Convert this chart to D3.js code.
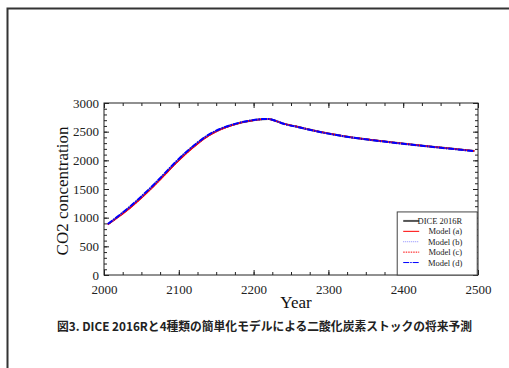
<!DOCTYPE html>
<html>
<head>
<meta charset="utf-8">
<script src="https://cdn.jsdelivr.net/npm/d3@7"></script>
<style>
  body { margin: 0; background: #fff; }
  svg { display: block; }
</style>
</head>
<body>
<div id="chart"></div>
<script>
// Data
const years  = [2005, 2020, 2035, 2050, 2065, 2080, 2095, 2110, 2125, 2140, 2155, 2170, 2185, 2200, 2212, 2220, 2228, 2240, 2260, 2280, 2300, 2330, 2360, 2390, 2420, 2450, 2495];
const dice   = [885, 1030, 1185, 1360, 1545, 1745, 1950, 2135, 2300, 2440, 2540, 2612, 2665, 2700, 2718, 2720, 2695, 2640, 2580, 2520, 2468, 2402, 2352, 2305, 2262, 2222, 2163];
const modelA = [880, 1020, 1172, 1345, 1530, 1730, 1935, 2122, 2288, 2430, 2533, 2607, 2662, 2698, 2716, 2719, 2694, 2640, 2581, 2522, 2470, 2404, 2354, 2307, 2264, 2224, 2165];
const modelB = [886, 1032, 1188, 1364, 1549, 1749, 1954, 2139, 2303, 2443, 2542, 2614, 2666, 2701, 2718, 2720, 2695, 2640, 2580, 2520, 2468, 2402, 2352, 2305, 2262, 2222, 2163];
const modelC = [881, 1022, 1175, 1348, 1533, 1733, 1938, 2125, 2291, 2432, 2535, 2608, 2663, 2699, 2717, 2719, 2694, 2640, 2581, 2521, 2469, 2403, 2353, 2306, 2263, 2223, 2164];
const modelD = [889, 1037, 1195, 1371, 1557, 1757, 1961, 2146, 2309, 2447, 2546, 2616, 2668, 2702, 2719, 2720, 2695, 2638, 2578, 2518, 2466, 2400, 2350, 2303, 2260, 2220, 2161];

const seriesNames = ['DICE 2016R', 'Model (a)', 'Model (b)', 'Model (c)', 'Model (d)'];
const xTicks = [2000, 2100, 2200, 2300, 2400, 2500];
const yTicks = [0, 500, 1000, 1500, 2000, 2500, 3000];
const xLabel = 'Year';
const yLabel = 'CO2 concentration';
const caption = '図3. DICE 2016Rと4種類の簡単化モデルによる二酸化炭素ストックの将来予測';

const width = 509, height = 368;
const margin = { top: 103, right: 31, bottom: 93, left: 104 };
const innerWidth = width - margin.left - margin.right;
const innerHeight = height - margin.top - margin.bottom;
const serif = '"Liberation Serif", "Times New Roman", serif';

const svg = d3.select('#chart').append('svg')
    .attr('width', width)
    .attr('height', height);

// outer page frame (top + left edge)
svg.append('path')
    .attr('d', `M7.5,${height} V8.5 H${width}`)
    .attr('fill', 'none')
    .attr('stroke', '#333')
    .attr('stroke-width', 2);

const g = svg.append('g')
    .attr('transform', `translate(${margin.left},${margin.top})`);

const x = d3.scaleLinear().domain([2000, 2500]).range([0, innerWidth]);
const y = d3.scaleLinear().domain([0, 3000]).range([innerHeight, 0]);

// minor + major ticks, pointing inward on all four sides
const xMinor = d3.range(2000, 2501, 25);
const yMinor = d3.range(0, 3001, 100);

function tickAxis(axisFn, scale, values, size, tr) {
    const a = g.append('g')
        .attr('transform', tr || null)
        .call(axisFn(scale).tickValues(values).tickSize(size));
    a.select('.domain').remove();
    a.selectAll('text').remove();
    a.selectAll('line').attr('stroke', '#222');
}
tickAxis(d3.axisBottom, x, xMinor, -3, `translate(0,${innerHeight})`);
tickAxis(d3.axisBottom, x, xTicks, -5, `translate(0,${innerHeight})`);
tickAxis(d3.axisTop, x, xMinor, -3);
tickAxis(d3.axisTop, x, xTicks, -5);
tickAxis(d3.axisLeft, y, yMinor, -3);
tickAxis(d3.axisLeft, y, yTicks, -5);
tickAxis(d3.axisRight, y, yMinor, -3, `translate(${innerWidth},0)`);
tickAxis(d3.axisRight, y, yTicks, -5, `translate(${innerWidth},0)`);

// tick labels
const xAx = g.append('g')
    .attr('transform', `translate(0,${innerHeight})`)
    .call(d3.axisBottom(x).tickValues(xTicks).tickSize(0).tickPadding(10).tickFormat(d3.format('d')));
xAx.select('.domain').remove();

const yAx = g.append('g')
    .call(d3.axisLeft(y).tickValues(yTicks).tickSize(0).tickPadding(5).tickFormat(d3.format('d')));
yAx.select('.domain').remove();

[xAx, yAx].forEach(ax => {
    ax.attr('font-family', serif).attr('font-size', 13);
    ax.selectAll('text').attr('fill', '#222');
});

// frame
g.append('rect')
    .attr('width', innerWidth)
    .attr('height', innerHeight)
    .attr('fill', 'none')
    .attr('stroke', '#222')
    .attr('stroke-width', 1);

// lines
const styles = [
    { data: dice,   color: '#555', width: 2,   dash: null },
    { data: modelA, color: '#ff0000', width: 1.5, dash: null },
    { data: modelB, color: '#8a8aff', width: 1.5, dash: '1,1' },
    { data: modelC, color: '#ff0000', width: 1.5, dash: '1.5,1' },
    { data: modelD, color: '#0000ff', width: 2, dash: '6,1,1.5,1' }
];

const line = d3.line()
    .x((d, i) => x(years[i]))
    .y(d => y(d))
    .curve(d3.curveMonotoneX);

styles.forEach(s => {
    g.append('path')
        .datum(s.data)
        .attr('d', line)
        .attr('fill', 'none')
        .attr('stroke', s.color)
        .attr('stroke-width', s.width)
        .attr('stroke-dasharray', s.dash);
});

// legend (sits on the bottom-right corner of the plot)
const lgTop = 1100;
const lg = g.append('g')
    .attr('transform', `translate(${x(2392)},${y(lgTop)})`);
const lgW = 80, lgH = y(0) - y(lgTop);
lg.append('rect')
    .attr('width', lgW)
    .attr('height', lgH)
    .attr('fill', '#fff')
    .attr('stroke', '#444')
    .attr('stroke-width', 1);

seriesNames.forEach((name, i) => {
    const s = styles[i];
    const ry = 9 + i * 10.4;
    lg.append('line')
        .attr('x1', 6).attr('x2', 22)
        .attr('y1', ry).attr('y2', ry)
        .attr('stroke', s.color)
        .attr('stroke-width', i === 0 ? 2 : 1)
        .attr('stroke-dasharray', s.dash);
    lg.append('text')
        .attr('x', 65)
        .attr('y', ry + 3)
        .attr('text-anchor', 'end')
        .style('font-family', serif)
        .style('font-size', '8.5px')
        .style('fill', '#222')
        .text(name);
});

// axis titles
svg.append('text')
    .attr('x', margin.left + innerWidth / 2 + 5)
    .attr('y', 308)
    .attr('text-anchor', 'middle')
    .style('font-family', serif)
    .style('font-size', '17px')
    .style('fill', '#111')
    .text(xLabel);

svg.append('text')
    .attr('transform', `translate(68,${margin.top + innerHeight / 2 + 2}) rotate(-90)`)
    .attr('text-anchor', 'middle')
    .style('font-family', serif)
    .style('font-size', '17px')
    .style('fill', '#111')
    .text(yLabel);

// caption
svg.append('text')
    .attr('x', 57)
    .attr('y', 331)
    .attr('textLength', 415)
    .attr('lengthAdjust', 'spacingAndGlyphs')
    .style('font-family', '"Noto Sans CJK JP", sans-serif')
    .style('font-weight', 'bold')
    .style('font-size', '12px')
    .style('fill', '#222')
    .text(caption);
</script>
</body>
</html>
